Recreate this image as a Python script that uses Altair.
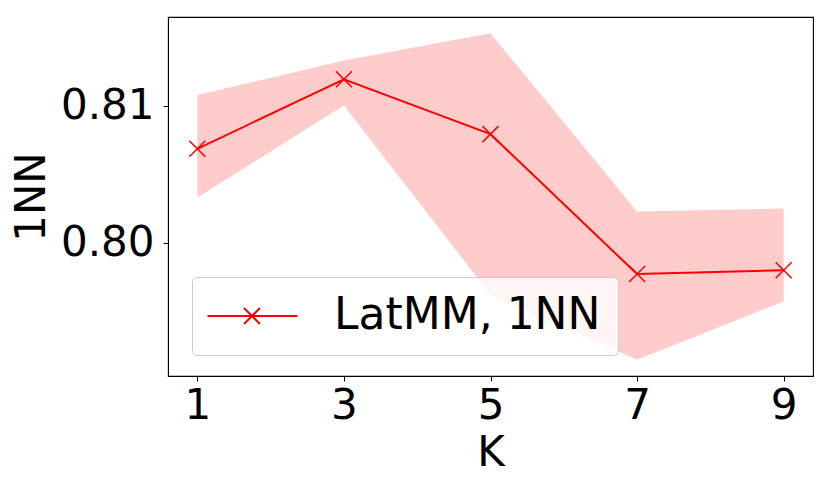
import altair as alt
import pandas as pd

ks = [1, 3, 5, 7, 9]
mean_1nn = [0.80685, 0.81192, 0.80792, 0.79772, 0.79800]
upper_1nn = [0.81078, 0.81328, 0.81527, 0.80228, 0.80250]
lower_1nn = [0.80330, 0.81000, 0.79621, 0.79148, 0.79573]
series_name = "LatMM, 1NN"
x_ticks = [1, 3, 5, 7, 9]
y_ticks = [0.80, 0.81]

df = pd.DataFrame({"K": ks, "mean": mean_1nn, "upper": upper_1nn,
                   "lower": lower_1nn, "series": series_name})

FONT = "DejaVu Sans"
FS = 42

xs = alt.Scale(domain=[0.6, 9.4], nice=False, zero=False)
ys = alt.Scale(domain=[0.79029, 0.81646], nice=False, zero=False)

x_axis = alt.Axis(values=x_ticks, format="d", title="K", grid=False,
                  labelFontSize=FS, titleFontSize=FS, labelFont=FONT, titleFont=FONT,
                  titleFontWeight="normal", tickSize=5, tickColor="black",
                  labelColor="black", titleColor="black", domainColor="black",
                  labelPadding=4, titlePadding=6, labelFlush=False)
y_axis = alt.Axis(values=y_ticks, format=".2f", title="1NN", grid=False,
                  labelFontSize=FS, titleFontSize=FS, labelFont=FONT, titleFont=FONT,
                  titleFontWeight="normal", tickSize=5, tickColor="black",
                  labelColor="black", titleColor="black", domainColor="black",
                  labelPadding=9, titlePadding=7, labelFlush=False)

band = alt.Chart(df).mark_area(color="red", opacity=0.2).encode(
    x=alt.X("K:Q", scale=xs, axis=x_axis),
    y=alt.Y("upper:Q", scale=ys, axis=y_axis),
    y2="lower:Q",
)

xpath = "M-1,-1L1,1M-1,1L1,-1"
legend_path = ("M-1.12,0L3.17,0M0.62,-0.38L1.38,0.38M0.62,0.38L1.38,-0.38")

color = alt.Color("series:N", scale=alt.Scale(domain=[series_name], range=["red"]),
                  legend=alt.Legend(title=None, orient="none", legendX=24, legendY=260,
                                    symbolType=legend_path, symbolSize=1764,
                                    symbolStrokeWidth=2, symbolStrokeColor="red",
                                    symbolFillColor="transparent",
                                    labelFontSize=44, labelFont=FONT, labelColor="black",
                                    labelOffset=81, padding=17, strokeColor="#cccccc",
                                    fillColor="rgba(255,255,255,0.8)", cornerRadius=5,
                                    labelLimit=0))

line = alt.Chart(df).mark_line(strokeWidth=2).encode(
    x=alt.X("K:Q", scale=xs), y=alt.Y("mean:Q", scale=ys), color=color)

pts = alt.Chart(df).mark_point(shape=xpath, size=256, filled=False, strokeWidth=1.5,
                               color="red", opacity=1).encode(
    x=alt.X("K:Q", scale=xs), y=alt.Y("mean:Q", scale=ys))

chart = alt.layer(band, line, pts).properties(
    width=645, height=359,
    background="white",
    autosize=alt.AutoSizeParams(type="none"),
    padding={"left": 160, "top": 9, "right": 8, "bottom": 110},
).configure_view(stroke="black", strokeWidth=1.1)

chart.save("out.html", embed_options={"renderer": "svg", "actions": False})
